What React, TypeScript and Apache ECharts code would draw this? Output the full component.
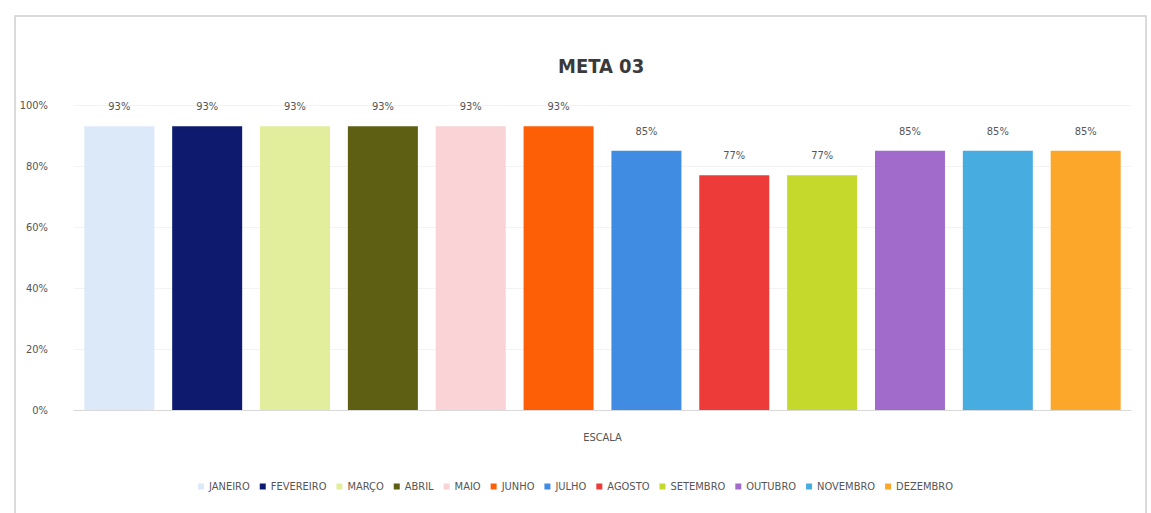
import React, { useEffect, useRef } from "react";
import * as echarts from "echarts";

const months = ["JANEIRO", "FEVEREIRO", "MARÇO", "ABRIL", "MAIO", "JUNHO", "JULHO", "AGOSTO", "SETEMBRO", "OUTUBRO", "NOVEMBRO", "DEZEMBRO"];
const values = [93, 93, 93, 93, 93, 93, 85, 77, 77, 85, 85, 85];
const colors = ["#dce9f8", "#0d1a6e", "#e2ee9c", "#5f5f14", "#f9d3d5", "#fd5f06", "#3f8ce2", "#ec3b38", "#c5d92c", "#a16bcb", "#47ade0", "#fca62a"];
const categories = ["ESCALA"];
const yTicks = [0, 20, 40, 60, 80, 100];

const FONT = "'Liberation Sans Narrow', 'DejaVu Sans Condensed', 'Roboto Condensed', sans-serif";

export default function App() {
  const ref = useRef<HTMLDivElement>(null);
  useEffect(() => {
    if (!ref.current) return;
    const chart = echarts.init(ref.current, null, { renderer: "svg" });
    chart.setOption({
      animation: false,
      backgroundColor: "#ffffff",
      title: {
        text: "META 03",
        left: 553,
        top: 51,
        textStyle: { fontFamily: FONT, fontSize: 20, fontWeight: "bold", color: "#3a3a3a" },
      },
      graphic: [
        {
          type: "rect",
          shape: { x: 15, y: 16, width: 1131, height: 510 },
          style: { fill: "none", stroke: "#cfcfcf", lineWidth: 1.5 },
          silent: true,
        },
      ],
      legend: {
        bottom: 16,
        left: "center",
        itemWidth: 6,
        itemHeight: 6,
        itemGap: 10,
        icon: "rect",
        textStyle: { fontFamily: FONT, fontSize: 11, color: "#555" },
        data: months,
      },
      grid: { left: 74, right: 20, top: 105, bottom: 103 },
      xAxis: {
        type: "category",
        data: categories,
        axisTick: { show: false },
        axisLine: { lineStyle: { color: "#d9d9d9" } },
        axisLabel: { fontFamily: FONT, fontSize: 11, color: "#555", margin: 22 },
      },
      yAxis: {
        type: "value",
        min: yTicks[0],
        max: yTicks[yTicks.length - 1],
        interval: 20,
        axisLabel: { formatter: "{value}%", fontFamily: FONT, fontSize: 11, color: "#555", margin: 26 },
        splitLine: { lineStyle: { color: "#f3f3f3" } },
        axisLine: { show: false },
        axisTick: { show: false },
      },
      series: months.map((m, i) => ({
        name: m,
        type: "bar",
        data: [values[i]],
        barWidth: 70,
        barGap: "25.5%",
        itemStyle: { color: colors[i] },
        label: {
          show: true,
          position: "top",
          distance: 14,
          formatter: "{c}%",
          fontFamily: FONT,
          fontSize: 11,
          color: "#555",
        },
      })),
    });
    return () => chart.dispose();
  }, []);
  return <div ref={ref} style={{ position: "absolute", left: 0, top: 0, width: 1151, height: 513 }} />;
}
